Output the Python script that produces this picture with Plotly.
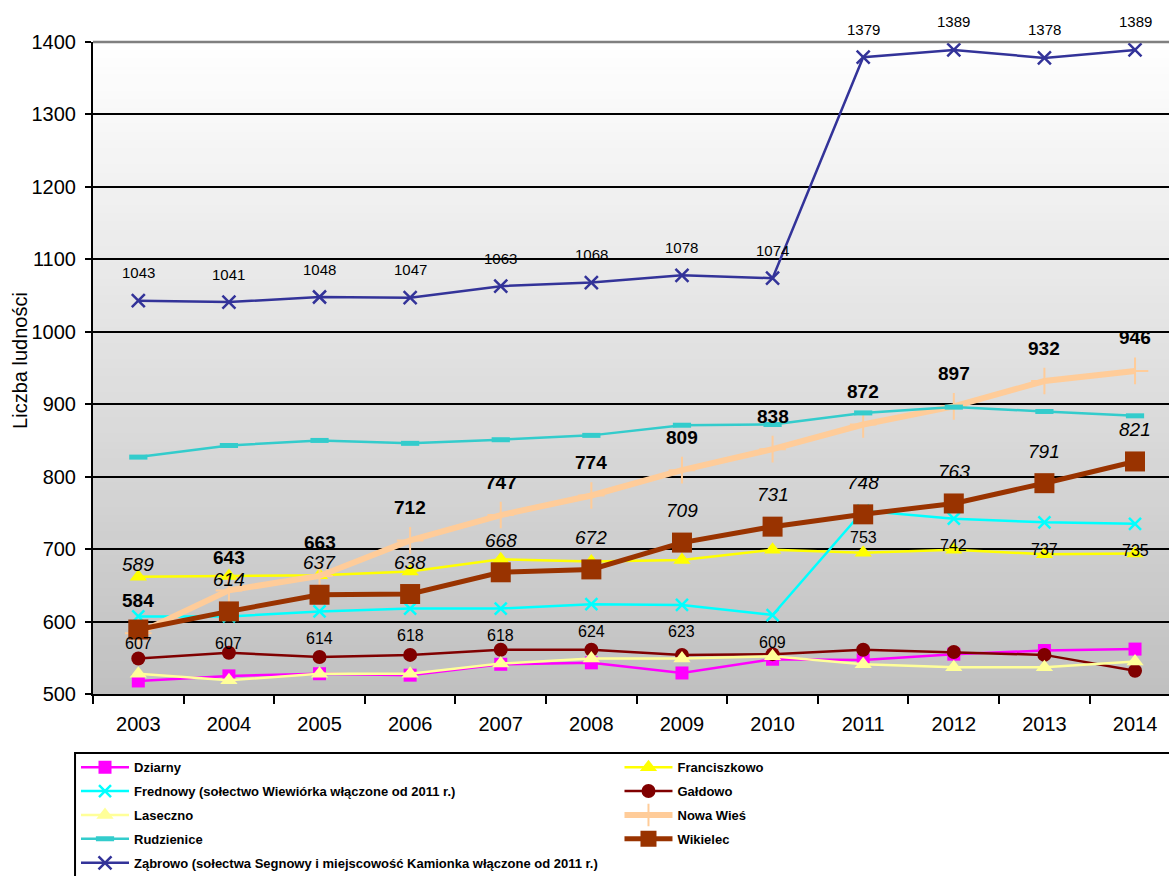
import plotly.graph_objects as go

# ---------------- data ----------------
years = ["2003", "2004", "2005", "2006", "2007", "2008", "2009", "2010", "2011", "2012", "2013", "2014"]

dziarny = [518, 525, 528, 526, 541, 543, 529, 548, 547, 555, 560, 562]
franciszkowo = [662, 663, 664, 669, 686, 683, 685, 699, 695, 699, 693, 694]
frednowy = [607, 607, 614, 618, 618, 624, 623, 609, 753, 742, 737, 735]
galdowo = [549, 557, 551, 554, 561, 561, 554, 555, 561, 558, 554, 532]
laseczno = [528, 519, 528, 528, 542, 549, 549, 552, 541, 537, 537, 545]
nowa_wies = [584, 643, 663, 712, 747, 774, 809, 838, 872, 897, 932, 946]
rudzienice = [827, 843, 850, 846, 851, 857, 871, 872, 888, 896, 890, 884]
wikielec = [589, 614, 637, 638, 668, 672, 709, 731, 748, 763, 791, 821]
zabrowo = [1043, 1041, 1048, 1047, 1063, 1068, 1078, 1074, 1379, 1389, 1378, 1389]

y_ticks = [500, 600, 700, 800, 900, 1000, 1100, 1200, 1300, 1400]

FONT = "Liberation Sans, Arial, sans-serif"

series = [
    # name, values, color, line width, symbol, marker size, marker line width, legend
    ("Dziarny", dziarny, "#FF00FF", 2.5, "square", 13, 0, "legend"),
    ("Franciszkowo", franciszkowo, "#FFFF00", 2.5, "triangle-up", 15, 0, "legend2"),
    ("Frednowy (sołectwo Wiewiórka włączone od 2011 r.)", frednowy, "#00FFFF", 2.5, "x-thin", 12, 2.5, "legend"),
    ("Gałdowo", galdowo, "#800000", 2.5, "circle", 14, 0, "legend2"),
    ("Laseczno", laseczno, "#FFFF99", 2.5, "triangle-up", 15, 0, "legend"),
    ("Nowa Wieś", nowa_wies, "#FFCC99", 6, "cross-thin", 19, 2, "legend2"),
    ("Rudzienice", rudzienice, "#33CCCC", 2.5, "line-ew", 13, 5, "legend"),
    ("Wikielec", wikielec, "#993300", 5, "square", 20, 0, "legend2"),
    ("Ząbrowo (sołectwa Segnowy i miejscowość Kamionka włączone od 2011 r.)", zabrowo, "#333399", 2.5, "x-thin", 13, 2.5, "legend"),
]

fig = go.Figure()

for name, vals, color, lw, sym, msize, mlw, leg in series:
    fig.add_trace(go.Scatter(
        x=years, y=vals, name=name, mode="lines+markers",
        line=dict(color=color, width=lw),
        marker=dict(symbol=sym, size=msize, color=color,
                    line=dict(color=color, width=mlw)),
        legend=leg, legendgroup=name, cliponaxis=False,
        hoverinfo="x+y+name",
    ))

# ---------------- background gradient (white -> gray) ----------------
shapes = []
N = 80
for i in range(N):
    t = (i + 0.5) / N  # 0 at bottom, 1 at top
    c = int(round(192 + (255 - 192) * t))
    shapes.append(dict(
        type="rect", xref="paper", yref="paper",
        x0=0, x1=1, y0=i / N, y1=min(1.0, (i + 1) / N + 0.002),
        fillcolor=f"rgb({c},{c},{c})", line=dict(width=0), layer="below",
    ))
# top border of plot area (gray)
shapes.append(dict(type="line", xref="paper", yref="paper",
                   x0=0, x1=1, y0=1, y1=1,
                   line=dict(color="#808080", width=2.5), layer="above"))
# legend frame
shapes.append(dict(type="rect", xref="paper", yref="paper",
                   x0=-0.0167, x1=1.05, y0=-0.0905, y1=-0.40,
                   line=dict(color="black", width=2), fillcolor="rgba(0,0,0,0)",
                   layer="above"))

# ---------------- data labels (category axis -> index positions) ----------------
annotations = []
for i, v in enumerate(zabrowo):
    annotations.append(dict(x=i, y=v, xref="x", yref="y", text=str(v), showarrow=False,
                            yshift=28, font=dict(family=FONT, size=15, color="black")))
for i, v in enumerate(frednowy):
    annotations.append(dict(x=i, y=v, xref="x", yref="y", text=str(v), showarrow=False,
                            yshift=-27, font=dict(family=FONT, size=16, color="black")))
for i, v in enumerate(nowa_wies):
    annotations.append(dict(x=i, y=v, xref="x", yref="y", text=f"<b>{v}</b>", showarrow=False,
                            yshift=33, font=dict(family=FONT, size=19, color="black")))
for i, (v, nv) in enumerate(zip(wikielec, nowa_wies)):
    shift = 65 if abs(v - nv) < 15 else 32
    annotations.append(dict(x=i, y=v, xref="x", yref="y", text=f"<i>{v}</i>", showarrow=False,
                            yshift=shift, font=dict(family=FONT, size=19, color="black")))

# y axis title
annotations.append(dict(x=-0.0678, y=0.511, xref="paper", yref="paper", text="Liczba ludności",
                        textangle=-90, showarrow=False, xanchor="center", yanchor="middle",
                        font=dict(family=FONT, size=20, color="black")))

legend_common = dict(
    orientation="v", xanchor="left", yanchor="top",
    font=dict(family=FONT, size=13, color="black", weight="bold"),
    bgcolor="rgba(0,0,0,0)", borderwidth=0, tracegroupgap=4,
    itemwidth=48, traceorder="grouped", itemsizing="trace",
)

fig.update_layout(
    width=1169, height=876,
    margin=dict(l=93, r=0, t=42, b=182, autoexpand=False),
    paper_bgcolor="white", plot_bgcolor="rgba(0,0,0,0)",
    font=dict(family=FONT, color="black"),
    showlegend=True,
    legend=dict(x=-0.0158, y=-0.0893, **legend_common),
    legend2=dict(x=0.4893, y=-0.0893, **legend_common),
    shapes=shapes,
    annotations=annotations,
    xaxis=dict(
        type="category", range=[-0.5, 11.375], tickson="boundaries",
        showline=True, linecolor="black", linewidth=2,
        ticks="outside", ticklen=8, tickwidth=2, tickcolor="black",
        showgrid=False, tickfont=dict(family=FONT, size=20, color="black"),
        ticklabelstandoff=11,
    ),
    yaxis=dict(
        range=[500, 1400], tickvals=y_ticks,
        showline=True, linecolor="black", linewidth=2,
        ticks="outside", ticklen=6, tickwidth=2, tickcolor="black",
        showgrid=True, gridcolor="black", gridwidth=2, zeroline=False,
        tickfont=dict(family=FONT, size=20, color="black"),
        ticklabelstandoff=5,
    ),
)

fig.write_html("out.html", config={"displayModeBar": False},
               post_script="document.body.style.margin='0';document.body.style.overflow='hidden';")
